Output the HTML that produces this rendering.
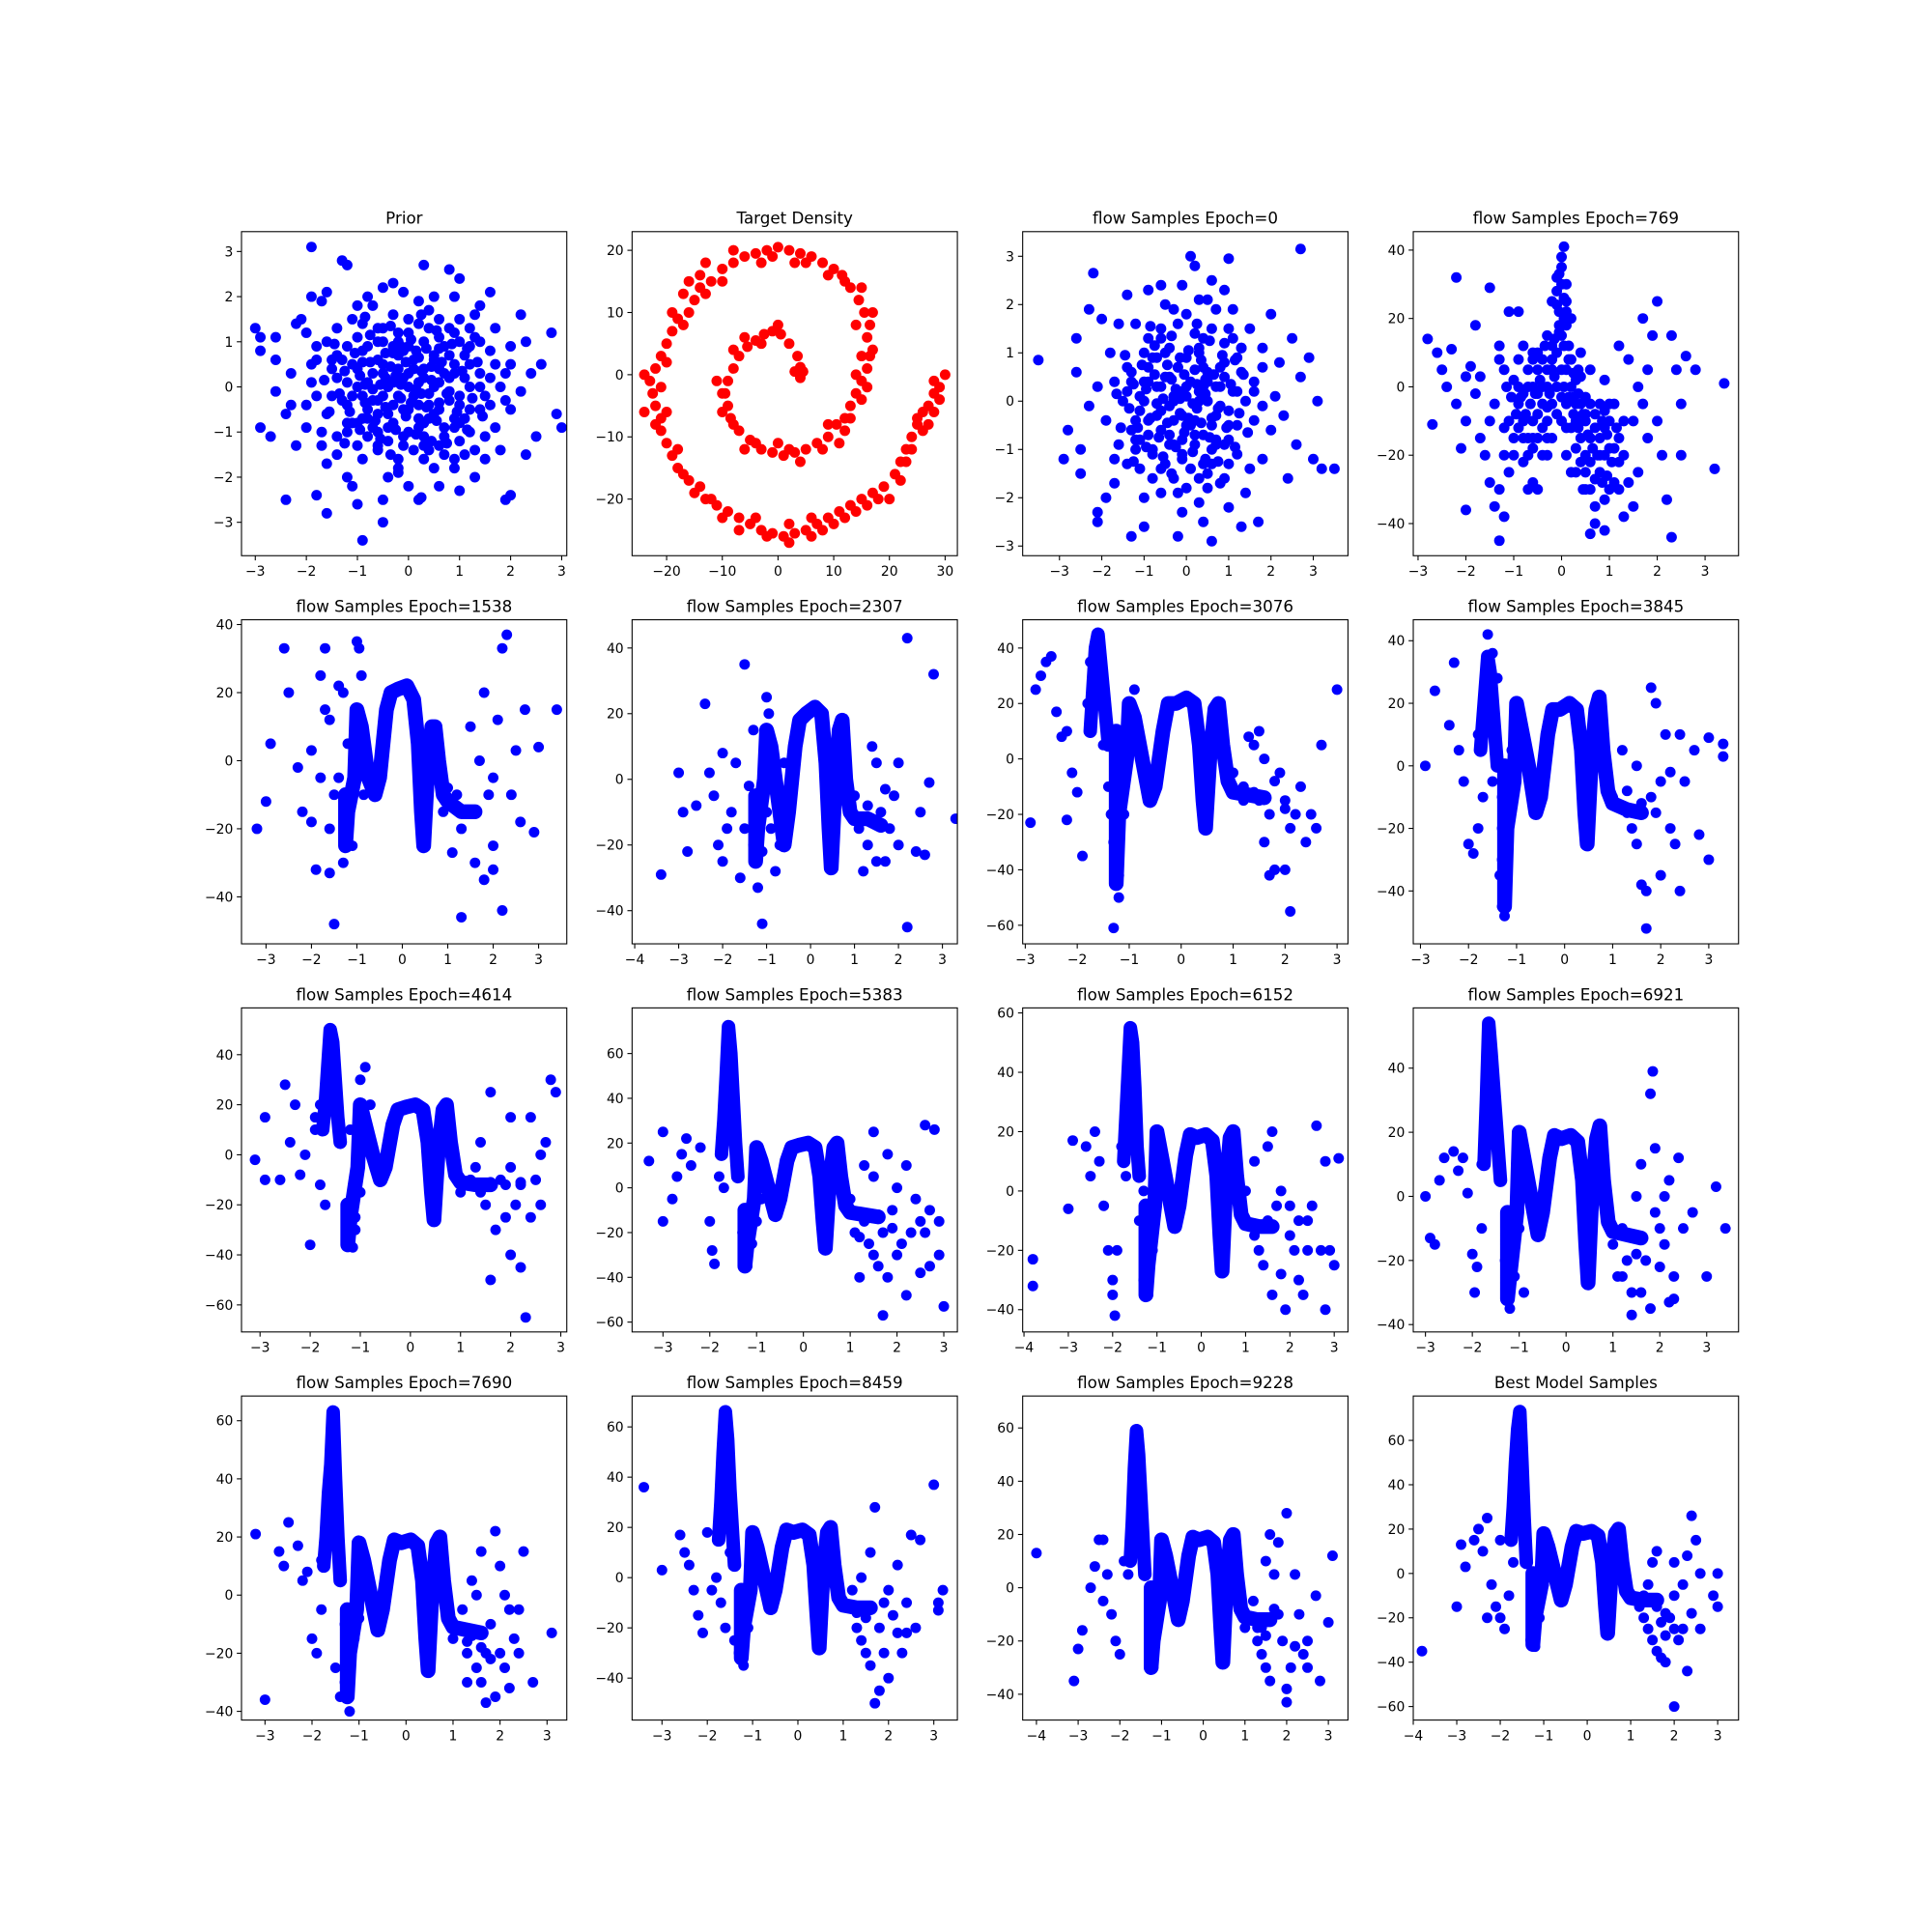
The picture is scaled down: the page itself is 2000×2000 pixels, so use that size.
<!DOCTYPE html>
<html><head><meta charset="utf-8"><title>Flow samples</title>
<style>html,body{margin:0;padding:0;background:#fff}svg{display:block}text{font-family:"DejaVu Sans","Liberation Sans",sans-serif;fill:#000}</style>
</head><body>
<svg id="fig" width="2000" height="2000" viewBox="0 0 1568 1568" xmlns="http://www.w3.org/2000/svg"></svg>
<script>
// ---- data ----
const PRIOR_PTS=[[-1.9,3.1],[-0.5,2.2],[0.8,2.6],[0.3,2.7],[-1.3,2.8],[-1.2,2.7],[1.0,2.4],[-3.0,1.3],[-2.9,1.1],[-2.9,0.8],[-2.6,1.1],[-2.4,-2.5],[-1.6,-2.8],[-0.9,-3.4],[-0.5,-3.0],[0.2,-2.5],[0.25,-2.45],[1.9,-2.5],[2.0,-2.4],[2.9,-0.6],[3.0,-0.9],[2.8,1.2],[2.6,0.5],[-2.9,-0.9],[-2.7,-1.1],[1.6,2.1],[-1.6,2.1],[-2.2,1.4],[2.2,1.6],[2.5,-1.1],[-2.6,-0.1],[-1.8,-2.4],[1.3,-2.0],[-1.2,-2.0],[0.6,-2.2],[2.2,-0.1],[-2.3,0.3],[1.8,-1.4],[-0.3,2.3],[0.2,1.9],[-1.1,1.5],[-1.9,2.0],[-1.7,1.9],[-2.1,1.5],[-2.0,1.2],[-2.3,-0.4],[-2.4,-0.6],[-2.0,-0.9],[-2.2,-1.3],[-1.6,-1.7],[-1.1,-2.2],[-0.4,-2.0],[0.5,-1.8],[0.9,-1.8],[1.1,-1.5],[1.5,-1.6],[2.0,-0.5],[2.4,0.3],[2.3,1.0],[1.7,1.3],[1.3,1.6],[0.9,2.0],[-0.1,2.1],[-0.7,1.8],[-1.4,1.3],[-1.8,0.6],[-1.9,0.1],[-1.6,-0.6],[-1.4,-1.1],[-0.9,-1.6],[-0.2,-1.6],[0.4,-1.4],[1.2,-1.0],[1.6,-0.4],[1.7,0.5],[1.4,1.0],[0.6,1.5],[-0.3,1.6],[-1.0,1.1],[-1.5,0.4],[-1.3,-0.3],[-1.0,-0.8],[-0.4,-1.2],[0.3,-1.1],[0.9,-0.7],[1.2,0.0],[1.1,0.7],[0.6,1.1],[0.0,1.2],[-0.6,1.0],[-1.1,0.5],[-1.1,-0.2],[-0.8,-0.5],[-0.3,-0.8],[0.3,-0.8],[0.8,-0.3],[0.9,0.3],[0.5,0.7],[-0.1,0.8],[-0.6,0.6],[-0.8,0.1],[-0.6,-0.3],[-0.1,-0.5],[0.4,-0.4],[0.6,0.1],[0.3,0.4],[-0.2,0.4],[-0.4,0.0],[0.0,0.0],[0.1,-0.2],[-0.2,-0.2],[0.2,0.1],[-1.2,0.9],[-0.5,1.3],[0.2,1.4],[0.8,1.3],[1.0,1.0],[1.4,0.3],[1.4,-0.5],[1.0,-1.2],[0.3,-1.3],[-0.6,-1.3],[-1.2,-1.0],[-1.5,-0.2],[-1.4,0.7],[-0.9,1.4],[0.4,1.7],[1.2,1.3],[1.8,0.0],[1.5,-1.1],[0.7,-1.5],[-0.2,-1.9],[-1.0,-1.3],[-1.7,-1.0],[-1.8,0.9],[-0.9,0.8],[-0.3,0.9],[0.7,0.9],[1.0,-0.4],[-0.7,-0.9],[0.0,-1.0],[0.5,-0.6],[-0.4,-0.6],[-0.9,-0.2],[0.9,-0.9],[1.3,-1.4],[-0.2,1.0],[0.6,0.4],[-0.5,0.3],[0.1,0.6],[-0.1,-1.3],[0.7,-1.1],[1.6,0.8],[-1.6,1.0],[-0.8,2.0],[0.5,2.0],[-2.0,-0.4],[-1.7,-1.3],[1.9,0.3],[2.0,0.9],[1.4,1.8],[-0.5,-2.5],[0.0,-2.2],[1.0,-2.3],[2.3,-1.5],[-2.6,0.6],[-1.0,-2.6]];
const PRIOR_CORE=[[-1.35,-0.15],[-1.25,0.35],[-1.15,-0.55],[-1.05,0.75],[-0.95,-0.95],[-0.95,0.25],[-0.85,-0.35],[-0.75,0.55],[-0.75,1.15],[-0.65,-0.75],[-0.55,0.05],[-0.55,-1.15],[-0.45,0.75],[-0.45,-0.45],[-0.35,1.35],[-0.25,0.25],[-0.25,-0.95],[-0.15,-0.25],[-0.05,0.55],[-0.05,-0.65],[0.05,1.05],[0.15,-0.05],[0.15,-1.05],[0.25,0.35],[0.35,-0.45],[0.35,0.85],[0.45,0.15],[0.55,-0.75],[0.55,1.25],[0.65,0.55],[0.75,-0.15],[0.75,-1.25],[0.85,0.95],[0.95,-0.55],[1.05,0.35],[1.15,-0.95],[1.15,0.85],[1.25,-0.25],[1.35,0.55],[1.45,-0.65],[-1.45,0.95],[-1.55,-0.55],[-1.25,-1.25],[-0.85,1.55],[0.25,1.6],[1.0,1.5],[1.6,0.2],[-1.65,0.15],[-0.35,-1.5],[0.9,-1.6],[-0.15,0.9],[0.6,-0.35],[-0.7,-0.05],[0.2,0.65],[-0.35,0.45],[0.05,-0.35],[1.3,1.1],[-1.1,-0.8],[-0.6,-1.4],[0.45,-1.2],[1.7,-0.9],[-1.8,-0.2],[-1.9,0.5],[-1.0,1.8],[0.0,1.5],[1.9,-0.3],[2.0,0.5],[-0.2,-1.8],[0.3,-1.6],[-1.4,-1.5],[-1.2,0.1],[-0.9,0.55],[-0.5,-0.2],[0.0,0.3],[0.4,-0.15],[0.8,0.2],[1.1,-0.7],[0.6,0.85],[-0.2,1.2],[-0.6,-1.0],[0.2,-0.7],[1.5,-0.2],[-1.5,0.6],[1.2,0.5],[-0.8,-0.7]];
const PRIOR_CORE2=[[-1.2,-0.4],[-1.0,0.0],[-1.0,0.4],[-0.9,-0.7],[-0.8,0.9],[-0.7,0.3],[-0.7,-0.3],[-0.6,-0.6],[-0.5,0.5],[-0.5,1.0],[-0.4,-0.9],[-0.3,0.1],[-0.3,-0.4],[-0.2,0.7],[-0.1,-1.1],[-0.1,0.2],[0.0,-0.5],[0.0,0.9],[0.1,0.4],[0.2,-0.4],[0.2,-0.9],[0.3,0.2],[0.3,1.0],[0.4,-0.7],[0.5,0.0],[0.5,0.6],[0.6,-0.5],[0.7,0.3],[0.7,-0.9],[0.8,0.7],[0.8,-0.1],[0.9,0.5],[1.0,-0.2],[1.0,-0.8],[1.1,0.2],[1.2,-0.5],[1.2,0.9],[-1.3,0.6],[-1.2,-0.8],[-0.8,-1.1],[0.4,1.3],[0.9,1.2],[1.4,0.0],[-1.4,0.2],[0.1,-1.4],[-0.6,1.3],[0.6,-1.3],[-0.15,0.05],[0.25,-0.15],[0.45,0.45],[-0.45,0.2],[-0.3,0.75],[0.15,0.8],[-0.85,0.05]];
const TARGET_PTS=[[4.5,0.5],[4,1.2],[3.5,3],[2,5],[0.5,6.5],[-1,7],[-2.5,6.5],[-4,5.5],[-5.5,4.5],[-7,3],[-8,1],[-9,-1],[-9.5,-3],[-9,-5],[-8.5,-7],[-7,-9],[-5,-10.5],[-3,-12],[-1,-12.5],[1,-13],[3,-12.5],[5,-12],[7,-11],[9,-10],[10.5,-8],[12,-7],[13,-5],[14,-3],[15,-1],[16,1],[16.5,3],[16,6],[16.5,8],[15.5,10],[14.5,12],[13,14],[11.5,16],[10,17],[8,18],[6,19],[4,19.5],[2,20],[0,20.5],[-2,20],[-4,19.5],[-6,19],[-8,18],[-10,17],[-12,15],[-13,13],[-15,12],[-16,10],[-18,9],[-19,7],[-20,5],[-21,3],[-22,1],[-23,-1],[-22.5,-3],[-22,-5],[-21,-7],[-21,-9],[-20,-11],[-19,-13],[-18,-15],[-16,-17],[-15,-19],[-13,-20],[-11,-21],[-9,-22],[-7,-23],[-5,-24],[-3,-25],[-1,-25.5],[1,-26],[3,-25.5],[5,-25],[7,-24],[9,-23],[11,-22],[13,-21],[15,-20],[17,-19],[19,-18],[21,-16],[22,-14],[23,-12],[24,-10],[25,-8],[26,-6],[27,-5],[28,-3],[29,-2],[30,0],[-3,5],[0,8],[-6,6],[-10,-3],[-11,-1],[-6,-12],[0,-11],[4,-14],[8,-12],[12,-9],[15,-4],[14,0],[17,4],[14,8],[12,15],[9,16],[3,18],[-3,18],[-10,15],[-14,14],[-17,8],[-20,2],[-24,0],[-20,-6],[-18,-12],[-14,-18],[-10,-23],[-4,-23],[2,-24],[6,-23],[10,-24],[14,-22],[18,-20],[20,-20],[24,-12],[26,-9],[28,-6],[29,-4],[25,-7],[22,-17],[3,0.5],[4,-0.5],[-16,15],[-19,10],[-13,18],[-8,20],[15,14],[17,10],[-21,-2],[-24,-6],[-12,-20],[-2,-26],[6,-26],[12,-23],[27,-8],[-8,-8],[-4,-11],[11,-11],[15,3],[-14,16],[-17,13],[-22,-8],[-17,-16],[-7,-25],[2,-27],[8,-25],[16,-21],[23,-14],[28,-1],[13,-7],[16,-2],[-1,19],[5,18],[-8,4],[-10,-6],[2,-12],[9,-8]];
const E0_PTS=[[-3.5,0.85],[2.7,3.15],[3.5,-1.4],[3.2,-1.4],[-2.2,2.65],[1.0,2.95],[0.1,3.0],[0.2,2.8],[-2.1,-2.3],[-2.1,-2.5],[-1.0,-2.6],[-0.2,-2.8],[0.6,-2.9],[1.7,-2.5],[2.4,-1.6],[-2.5,-1.0],[-2.8,-0.6],[-2.9,-1.2],[3.1,0.0],[2.7,0.5],[2.5,1.3],[-1.4,2.2],[-0.6,2.4],[0.6,2.5],[-0.9,2.3],[1.5,1.5],[-2.0,1.7],[-2.6,0.6],[2.1,0.1],[1.4,-1.9],[-1.7,-1.7],[-1.4,-1.3],[-0.6,-1.9],[0.3,-2.1],[1.0,-2.2],[1.8,-1.2],[2.0,-0.6],[2.2,0.8],[1.8,1.1],[1.1,1.9],[0.3,2.1],[-0.5,2.0],[-1.2,1.6],[-1.8,1.0],[-2.1,0.3],[-1.9,-0.4],[-1.6,-0.9],[-1.1,-1.4],[-0.3,-1.6],[0.5,-1.5],[1.2,-1.1],[1.6,-0.4],[1.6,0.4],[1.3,1.1],[0.6,1.5],[-0.2,1.6],[-0.9,1.3],[-1.4,0.7],[-1.5,0.0],[-1.3,-0.6],[-0.8,-1.0],[-0.1,-1.2],[0.6,-1.0],[1.0,-0.5],[1.2,0.2],[0.9,0.8],[0.3,1.1],[-0.4,1.1],[-0.9,0.7],[-1.1,0.1],[-0.9,-0.4],[-0.4,-0.7],[0.2,-0.7],[0.7,-0.3],[0.8,0.3],[0.4,0.7],[-0.2,0.7],[-0.6,0.3],[-0.6,-0.2],[-0.1,-0.3],[0.3,0.0],[0.0,0.3],[-0.3,0.0],[0.1,-0.5],[0.5,0.4],[-0.4,0.5],[-1.0,1.0],[-1.2,-1.0],[1.0,-1.3],[1.1,1.3],[0.0,1.8],[0.0,-1.8],[-1.7,0.4],[1.8,-0.1],[-0.5,-1.3],[0.5,-1.8],[-2.3,-0.1],[2.3,-0.3],[-1.0,-2.0],[-0.1,-2.3],[0.9,2.3],[-0.1,2.4],[2.6,-0.9],[-2.6,1.3],[-2.3,1.9],[2.0,1.8],[-0.3,-0.9],[0.4,-1.3],[-0.8,-1.6],[0.8,-1.7],[-1.7,-1.2],[1.5,-1.4],[1.8,0.7],[-1.6,1.6],[0.7,1.9],[-0.6,1.5],[-1.1,-0.2],[0.2,1.4],[0.9,-0.9],[-0.7,0.9],[1.3,0.6],[-1.3,0.4],[-1.9,-2.0],[-2.5,-1.5],[3.0,-1.2],[2.9,0.9],[1.3,-2.6],[-1.3,-2.8],[0.4,-2.5]];
const E0_CORE=[[-1.35,-0.15],[-1.25,0.35],[-1.15,-0.55],[-1.05,0.75],[-0.95,-0.95],[-0.95,0.25],[-0.85,-0.35],[-0.75,0.55],[-0.75,1.15],[-0.65,-0.75],[-0.55,0.05],[-0.55,-1.15],[-0.45,0.75],[-0.45,-0.45],[-0.35,1.35],[-0.25,0.25],[-0.25,-0.95],[-0.15,-0.25],[-0.05,0.55],[-0.05,-0.65],[0.05,1.05],[0.15,-0.05],[0.15,-1.05],[0.25,0.35],[0.35,-0.45],[0.35,0.85],[0.45,0.15],[0.55,-0.75],[0.55,1.25],[0.65,0.55],[0.75,-0.15],[0.75,-1.25],[0.85,0.95],[0.95,-0.55],[1.05,0.35],[1.15,-0.95],[1.15,0.85],[1.25,-0.25],[1.35,0.55],[1.45,-0.65],[-1.45,0.95],[-1.55,-0.55],[-1.25,-1.25],[-0.85,1.55],[0.25,1.6],[1.0,1.5],[1.6,0.2],[-1.65,0.15],[-0.35,-1.5],[0.9,-1.6],[-0.15,0.9],[0.6,-0.35],[-0.7,-0.05],[0.2,0.65],[-0.35,0.45],[0.05,-0.35],[1.3,1.1],[-1.1,-0.8],[-0.6,-1.4],[0.45,-1.2],[-0.2,-1.9],[0.3,-1.6],[0.0,0.1],[-0.4,-0.1],[0.4,0.3],[-0.1,-0.8],[-0.9,0.4],[0.7,-0.8],[-0.3,1.9],[0.5,2.1]];
const E0_CORE2=[[-1.2,-0.4],[-1.0,0.0],[-1.0,0.4],[-0.9,-0.7],[-0.8,0.9],[-0.7,0.3],[-0.7,-0.3],[-0.6,-0.6],[-0.5,0.5],[-0.5,1.0],[-0.4,-0.9],[-0.3,0.1],[-0.3,-0.4],[-0.2,0.7],[-0.1,-1.1],[-0.1,0.2],[0.0,-0.5],[0.0,0.9],[0.1,0.4],[0.2,-0.4],[0.2,-0.9],[0.3,0.2],[0.3,1.0],[0.4,-0.7],[0.5,0.0],[0.5,0.6],[0.6,-0.5],[0.7,0.3],[0.7,-0.9],[0.8,0.7],[0.8,-0.1],[0.9,0.5],[1.0,-0.2],[1.0,-0.8],[1.1,0.2],[1.2,-0.5],[1.2,0.9],[-1.3,0.6],[-1.2,-0.8],[-0.8,-1.1],[0.4,1.3],[0.9,1.2],[1.4,0.0],[-1.4,0.2],[0.1,-1.4],[-0.6,1.3],[0.6,-1.3],[-0.15,0.05],[0.25,-0.15],[0.45,0.45]];
const E769_PTS=[[-2.8,14],[-2.7,-11],[-2.6,10],[-2.5,5],[-2.4,0],[-2.3,11],[-2.2,-5],[-2.2,32],[-2.1,-18],[-2.0,-36],[-2.0,-10],[-1.9,6],[-1.8,-2],[-1.7,-15],[-1.6,-20],[-1.5,-28],[-1.4,-35],[-1.3,-45],[-1.2,-38],[-1.5,29],[-1.3,-30],[-1.2,5],[-1.1,-25],[-1.0,-15],[-0.9,-5],[-0.8,-22],[-0.7,-30],[-0.6,-10],[-1.1,22],[-0.9,22],[-0.8,12],[-0.7,0],[-0.6,10],[-0.5,5],[-0.4,-5],[-0.3,15],[-0.2,-5],[-1.4,-5],[-1.3,8],[-1.2,-12],[-1.0,2],[-0.9,-12],[-0.8,-2],[-0.6,-18],[-0.5,-8],[-0.4,8],[-0.3,0],[-0.2,25],[-0.1,28],[0.0,30],[0.0,35],[0.0,38],[0.05,41],[-0.05,22],[0.1,18],[0.0,15],[-0.1,10],[0.1,5],[0.2,0],[0.3,-5],[0.3,-10],[0.4,-15],[0.5,-20],[0.5,-25],[0.6,-30],[0.7,-35],[0.6,-43],[0.8,-25],[0.9,-20],[1.0,-10],[1.1,-5],[1.2,-15],[1.3,-20],[1.4,-28],[1.5,-10],[1.6,0],[1.7,-5],[1.8,5],[1.9,15],[2.0,25],[2.1,-20],[2.2,-33],[2.3,-44],[2.4,5],[2.5,-5],[2.6,9],[3.2,-24],[3.4,1],[0.4,10],[0.6,5],[0.8,-5],[0.9,2],[1.0,-18],[1.2,-30],[0.7,-12],[0.5,-8],[0.3,2],[0.2,8],[0.2,-12],[0.4,-22],[0.8,-15],[1.1,-28],[1.3,-38],[0.9,-33],[1.6,-25],[1.8,-15],[2.0,-10],[1.4,8],[1.2,12],[1.7,20],[2.3,15],[-0.2,-15],[-0.4,-20],[-0.6,-28],[0.1,-20],[0.2,20],[-0.1,32],[0.1,25],[-0.3,-10],[-1.5,-10],[-1.7,3],[-2.0,3],[-1.8,18],[-1.3,12],[-0.5,-30],[0.1,-5],[-0.1,0],[0.0,-10],[0.9,-42],[1.5,-35],[2.8,5],[2.5,-20]];
const E769_CORE=[[-0.05,18],[0.05,20],[-0.15,14],[0.15,12],[-0.1,24],[0.1,30],[-0.05,33],[0.05,26],[-0.2,8],[0.25,4],[-0.3,5],[0.35,-2],[-0.45,2],[-0.55,-2],[-0.65,-5],[-0.75,-8],[-0.85,-3],[-0.95,-8],[-1.05,-3],[-1.15,0],[-0.7,5],[-0.5,10],[-0.35,12],[-0.25,-2],[-0.15,3],[0.0,5],[0.05,0],[0.15,-3],[0.25,-8],[0.35,-12],[0.45,-8],[0.55,-14],[0.65,-18],[0.75,-20],[0.85,-10],[0.95,-14],[1.05,-22],[1.15,-12],[0.6,-22],[0.7,-27],[0.45,-30],[0.3,-18],[-0.4,-12],[-0.6,-15],[-0.8,-15],[-1.0,-20],[-0.3,-6],[0.5,-3],[0.9,-7],[1.3,-10],[0.4,3],[-0.9,8],[-0.6,0],[0.2,-25],[0.95,-26]];
const E769_CORE2=[[-0.9,0],[-0.8,-10],[-0.7,-15],[-0.6,8],[-0.5,-2],[-0.5,-15],[-0.4,0],[-0.3,-15],[-0.2,5],[-0.1,-8],[0,-3],[0.1,-12],[0.15,8],[0.25,-3],[0.35,5],[0.4,-5],[0.5,-10],[0.6,-5],[0.7,-8],[0.8,-20],[0.9,-12],[1.0,-5],[1.1,-18],[1.2,-22],[0.3,-25],[0.5,-30],[0.7,-40],[-0.2,12],[0.05,12],[-0.05,16],[0.1,22],[-0.3,-20],[-0.7,-20],[-1.1,-10],[-1.2,-20],[0.6,-15],[0.85,-28],[1.0,-30]];
const E1538_PTS=[[-3.2,-20],[-3.0,-12],[-2.9,5],[-2.6,33],[-2.5,20],[-2.3,-2],[-2.2,-15],[-2.0,-18],[-1.9,-32],[-1.8,25],[-1.7,33],[-1.6,12],[-1.5,-48],[-1.5,-10],[-1.4,22],[-1.3,20],[-1.2,5],[-1.1,-25],[-1.3,-30],[-1.6,-33],[-1.0,35],[-0.95,33],[-0.9,25],[-1.8,-5],[-2.0,3],[-1.6,-20],[1.3,-46],[1.6,-30],[1.8,-35],[2.0,-25],[2.2,-44],[2.2,33],[2.3,37],[2.0,-5],[2.5,3],[2.7,15],[2.9,-21],[3.0,4],[3.4,15],[2.6,-18],[1.5,10],[1.8,20],[2.1,12],[1.4,-15],[1.2,-10],[1.0,-8],[1.9,-10],[1.7,0],[2.4,-10],[1.1,-27],[2.0,-32],[-1.4,-5],[-1.2,-15],[-0.95,10],[-1.05,-5],[-0.85,-10],[-1.7,15],[1.3,-20],[1.6,-15],[0.9,-15]];
const E2307_PTS=[[-3.4,-29],[-3.0,2],[-2.9,-10],[-2.8,-22],[-2.6,-8],[-2.4,23],[-2.3,2],[-2.2,-5],[-2.1,-20],[-2.0,-25],[-1.9,-15],[-1.8,-10],[-1.7,5],[-1.6,-30],[-1.5,35],[-1.4,-2],[-1.3,-20],[-1.2,-33],[-1.1,-44],[-1.0,-10],[-0.9,10],[-0.8,-28],[-0.7,-20],[-1.3,15],[-1.5,-15],[-2.0,8],[1.0,-5],[1.1,-15],[1.3,-20],[1.5,5],[1.6,-10],[1.7,-25],[1.8,-15],[2.0,-20],[2.2,-45],[2.2,43],[2.4,-22],[2.5,-10],[2.8,32],[2.6,-23],[3.3,-12],[1.5,-25],[1.9,-5],[1.2,-28],[2.0,5],[1.4,10],[2.7,-1],[-0.95,20],[-1.0,25],[-0.6,5],[-0.5,-10],[-1.2,-5],[-1.1,-22],[-0.9,-15],[1.3,-8],[1.7,-3]];
const E3076_PTS=[[-2.9,-23],[-2.8,25],[-2.7,30],[-2.6,35],[-2.5,37],[-2.4,17],[-2.3,8],[-2.2,10],[-2.1,-5],[-2.0,-12],[-1.9,-35],[-2.2,-22],[-1.8,20],[-1.7,30],[-1.6,45],[-1.5,25],[-1.3,-61],[-1.3,-30],[-1.25,-38],[-1.2,-42],[-1.4,-10],[-1.5,5],[-1.1,-20],[-1.0,10],[-0.9,25],[1.0,-5],[1.2,-10],[1.4,5],[1.5,-15],[1.6,0],[1.7,-20],[1.8,-40],[1.9,-5],[2.0,-15],[2.1,-25],[2.1,-55],[2.2,-20],[2.3,-10],[2.4,-30],[2.5,-20],[2.6,-25],[2.7,5],[3.0,25],[1.8,-8],[1.3,8],[1.5,10],[2.0,-18],[1.7,-42],[2.0,-40],[1.6,-30],[-1.75,35],[-1.65,40],[-1.6,20],[-1.35,-20],[-1.25,-25],[-1.2,-50],[1.4,-12],[1.2,-15]];
const E3845_PTS=[[-2.9,0],[-2.7,24],[-2.4,13],[-2.3,33],[-2.2,5],[-2.1,-5],[-2.0,-25],[-1.9,-28],[-1.8,-20],[-1.7,-10],[-1.6,42],[-1.5,36],[-1.4,28],[-1.3,-30],[-1.3,-45],[-1.25,-40],[-1.3,-20],[-1.2,-15],[-1.1,5],[-1.5,-5],[-1.8,10],[-1.7,20],[1.0,-10],[1.2,5],[1.3,-15],[1.4,-20],[1.5,-25],[1.6,-38],[1.7,-40],[1.7,-52],[1.8,25],[1.9,20],[2.0,-5],[2.1,10],[2.2,-20],[2.3,-25],[2.4,-40],[2.5,-5],[2.7,5],[2.8,-22],[3.0,-30],[3.3,3],[3.3,7],[3.0,9],[1.5,0],[1.9,-15],[2.0,-35],[2.4,10],[1.8,-10],[2.2,-2],[-1.35,-35],[-1.25,-48],[-1.3,-10],[-1.6,25],[-1.5,15],[1.3,-8],[1.6,-12]];
const E4614_PTS=[[-3.1,-2],[-2.9,15],[-2.9,-10],[-2.6,-10],[-2.5,28],[-2.4,5],[-2.3,20],[-2.2,-8],[-2.1,0],[-2.0,-36],[-1.9,10],[-1.8,-12],[-1.7,-20],[-1.8,20],[-1.9,15],[-1.2,-30],[-1.15,-37],[-1.1,-25],[-1.0,-15],[-1.0,30],[-0.9,35],[-1.0,20],[-1.2,10],[-0.8,20],[1.0,-15],[1.2,-10],[1.3,-5],[1.4,5],[1.5,-20],[1.6,-50],[1.7,-30],[1.8,-10],[1.9,-25],[2.0,-40],[2.1,-20],[2.2,-45],[2.3,-65],[2.4,-25],[2.5,-10],[2.6,0],[2.7,5],[2.8,30],[2.9,25],[2.4,15],[2.0,15],[1.6,25],[2.6,-20],[2.2,-12],[1.4,-15],[2.0,-5],[1.3,-12],[1.6,-11],[1.9,-12],[2.2,-11],[-1.25,-35],[-1.1,-30]];
const E5383_PTS=[[-3.3,12],[-3.0,25],[-3.0,-15],[-2.8,-5],[-2.7,5],[-2.6,15],[-2.5,22],[-2.4,10],[-2.2,18],[-2.0,-15],[-1.95,-28],[-1.9,-34],[-1.8,5],[-1.7,0],[-1.3,-20],[-1.2,-35],[-1.1,-25],[-1.0,-15],[-0.9,-5],[1.0,-5],[1.1,-20],[1.3,10],[1.4,-25],[1.5,-30],[1.6,-35],[1.7,-57],[1.7,-20],[1.8,-40],[1.9,-10],[2.0,-30],[2.1,-25],[2.2,-48],[2.3,-20],[2.5,-15],[2.6,28],[2.7,-35],[2.8,26],[2.9,-30],[3.0,-53],[2.9,-15],[2.2,10],[1.8,15],[1.5,25],[2.4,-5],[2.0,0],[1.2,-40],[2.5,-38],[1.5,5],[2.6,-20],[2.7,-10],[1.3,-15],[1.6,-12],[1.9,-18],[1.2,-22]];
const E6152_PTS=[[-3.8,-23],[-3.8,-32],[-3.0,-6],[-2.9,17],[-2.6,15],[-2.5,5],[-2.4,20],[-2.3,10],[-2.2,-5],[-2.1,-20],[-2.0,-35],[-1.95,-42],[-1.9,-20],[-2.0,-30],[-1.8,15],[-1.7,5],[-1.4,-10],[-1.3,-30],[-1.2,-35],[-1.1,-20],[-1.0,10],[-1.3,0],[1.0,0],[1.2,10],[1.3,-20],[1.4,-25],[1.5,-10],[1.6,20],[1.7,-5],[1.8,-28],[1.9,-40],[2.0,-15],[2.1,-20],[2.2,-30],[2.3,-35],[2.4,-10],[2.5,-5],[2.6,22],[2.7,-20],[2.8,10],[2.9,-20],[3.0,-25],[3.1,11],[1.5,15],[2.0,-5],[1.8,0],[2.4,-20],[1.6,-35],[2.2,-10],[2.8,-40],[1.2,-15],[1.4,-12],[-1.25,-25]];
const E6921_PTS=[[-3.0,0],[-2.9,-13],[-2.8,-15],[-2.7,5],[-2.6,12],[-2.4,14],[-2.3,8],[-2.2,12],[-2.1,1],[-2.0,-18],[-1.95,-30],[-1.9,-22],[-1.8,-10],[-1.8,10],[-1.7,20],[-1.3,-20],[-1.25,-30],[-1.2,-35],[-1.1,-25],[-1.0,-10],[-0.9,-30],[1.0,-15],[1.1,-25],[1.2,-10],[1.3,-20],[1.4,-30],[1.5,0],[1.6,10],[1.7,-20],[1.8,-35],[1.8,32],[1.85,39],[1.9,-5],[2.0,-10],[2.1,-15],[2.2,5],[2.3,-25],[2.4,12],[2.5,-10],[2.7,-5],[3.0,-25],[3.2,3],[3.4,-10],[2.2,-33],[1.6,-30],[2.0,-22],[1.9,15],[2.3,-32],[1.4,-37],[2.1,0],[1.3,-12],[1.5,-18],[1.2,-25]];
const E7690_PTS=[[-3.2,21],[-3.0,-36],[-2.7,15],[-2.6,10],[-2.5,25],[-2.3,17],[-2.2,5],[-2.1,8],[-2.0,-15],[-1.9,-20],[-1.8,-5],[-1.8,12],[-1.6,17],[-1.5,-25],[-1.3,-30],[-1.2,-40],[-1.3,-10],[-1.1,-15],[-1.0,-8],[1.0,-15],[1.2,-5],[1.3,-20],[1.4,5],[1.5,-25],[1.6,-30],[1.7,-37],[1.8,-10],[1.9,22],[2.0,-20],[2.1,-25],[2.2,-32],[2.3,-15],[2.4,-5],[2.5,15],[2.7,-30],[3.1,-13],[2.0,10],[1.6,15],[1.9,-35],[2.2,-5],[1.7,-20],[2.4,-20],[1.5,0],[1.3,-30],[2.1,0],[-1.4,-35],[1.2,-12],[1.4,-14],[1.6,-18],[1.8,-22],[1.3,-16],[-1.25,-28]];
const E8459_PTS=[[-3.4,36],[-3.0,3],[-2.6,17],[-2.5,10],[-2.4,5],[-2.3,-5],[-2.2,-15],[-2.1,-22],[-2.0,18],[-1.9,-5],[-1.8,0],[-1.7,-10],[-1.6,-20],[-1.5,10],[-1.4,-25],[-1.3,-30],[-1.2,-35],[-1.1,-20],[-1.0,5],[1.0,-10],[1.2,-5],[1.3,-20],[1.4,-25],[1.5,-30],[1.6,-35],[1.7,-50],[1.7,28],[1.8,-20],[1.9,-10],[2.0,-5],[2.1,-15],[2.2,-22],[2.3,-30],[2.4,-22],[2.5,17],[2.7,15],[3.0,37],[3.1,-10],[3.2,-5],[3.1,-13],[2.0,-40],[1.6,10],[2.2,5],[1.9,-30],[2.6,-20],[1.8,-45],[1.4,0],[2.4,-10],[1.3,-14],[1.5,-16]];
const E9228_PTS=[[-4.0,13],[-3.1,-35],[-3.0,-23],[-2.9,-16],[-2.6,8],[-2.5,18],[-2.4,18],[-2.3,5],[-2.2,-10],[-2.1,-20],[-2.0,-25],[-1.9,10],[-1.8,5],[-1.7,15],[-1.3,-20],[-1.25,-28],[-1.2,-30],[-1.1,-15],[-1.0,0],[1.0,-15],[1.2,-5],[1.3,-20],[1.4,-25],[1.5,-30],[1.6,-35],[1.7,5],[1.8,-10],[1.9,-20],[2.0,28],[2.0,-43],[2.1,-30],[2.2,-22],[2.3,-10],[2.4,-25],[2.5,-30],[2.7,-3],[2.8,-35],[3.0,-13],[3.1,12],[1.5,10],[1.7,-8],[2.5,-20],[2.0,-38],[1.8,17],[2.2,5],[1.6,20],[1.4,-15],[-2.4,-5],[-2.7,0],[1.2,-12],[1.3,-15],[1.5,-18]];
const BEST_PTS=[[-3.8,-35],[-3.0,-15],[-2.9,13],[-2.8,3],[-2.6,15],[-2.5,20],[-2.4,10],[-2.3,25],[-2.2,-5],[-2.1,-15],[-2.0,-20],[-1.9,-25],[-1.8,-10],[-1.7,5],[-1.3,-30],[-1.2,-33],[-1.1,-20],[-1.0,-5],[1.0,-10],[1.2,-15],[1.3,-20],[1.4,-25],[1.5,-30],[1.6,-35],[1.7,-38],[1.8,-40],[1.9,-20],[2.0,-60],[2.0,-10],[2.1,-30],[2.2,-25],[2.3,-44],[2.4,26],[2.5,15],[2.6,0],[2.6,-25],[2.9,-10],[3.0,-15],[3.0,0],[2.0,5],[1.6,10],[2.2,-5],[1.8,-28],[2.4,-18],[1.5,5],[1.4,-5],[1.7,-22],[2.3,8],[-2.0,15],[-2.3,-20],[1.6,-15],[1.8,-18],[2.0,-25],[1.3,-10]];

// dense main curve (shared x positions, per-epoch y values)
const CURVE_X=[-1.25,-1.25,-1.2,-1.05,-1.0,-0.9,-0.75,-0.6,-0.5,-0.35,-0.25,-0.1,0.1,0.25,0.35,0.42,0.47,0.55,0.65,0.72,0.8,0.9,1.0,1.3,1.6];
const E1538_CURVE=[-10,-25,-15,-5,15,10,-5,-10,-5,15,20,21,22,18,5,-15,-25,-5,10,10,0,-10,-12,-15,-15];
const E2307_CURVE=[-5,-25,-15,0,15,10,-5,-20,-10,10,18,20,22,20,5,-15,-27,-5,15,18,0,-10,-12,-12,-14];
const E3076_CURVE=[10,-45,-20,0,20,15,0,-15,-10,10,20,20,22,20,5,-15,-25,0,18,20,5,-8,-12,-13,-14];
const E3845_CURVE=[0,-45,-20,-5,20,12,0,-15,-10,10,18,18,20,18,5,-15,-25,0,18,22,5,-8,-12,-14,-15];
const E4614_CURVE=[-20,-36,-25,-5,20,12,0,-10,-5,12,18,19,20,18,5,-15,-26,0,18,20,5,-8,-11,-12,-12];
const E5383_CURVE=[-10,-35,-25,-5,18,12,0,-12,-5,12,18,19,20,18,5,-15,-27,0,18,20,5,-8,-11,-12,-13];
const E6152_CURVE=[-5,-35,-25,-5,20,12,0,-12,-5,12,19,18,19,17,5,-15,-27,0,18,20,5,-8,-11,-12,-12];
const E6921_CURVE=[-5,-32,-25,-5,20,12,0,-12,-5,12,19,18,19,17,5,-15,-27,0,18,22,5,-8,-11,-12,-13];
const E7690_CURVE=[-5,-35,-20,-5,18,12,0,-12,-5,12,19,18,19,17,5,-15,-26,0,18,20,5,-8,-11,-12,-13];
const E8459_CURVE=[-5,-32,-20,-5,18,12,0,-12,-5,12,19,18,19,17,5,-15,-28,0,18,20,5,-8,-11,-12,-12];
const E9228_CURVE=[0,-30,-20,-5,18,12,0,-12,-5,12,19,18,19,17,5,-15,-28,0,18,20,5,-8,-11,-12,-12];
const BEST_CURVE=[0,-32,-20,-5,18,12,0,-12,-5,12,19,18,19,17,5,-15,-27,0,18,20,5,-8,-11,-12,-12];

// spike near x=-1.5 (later epochs)
const SPIKE_X=[-1.75,-1.7,-1.65,-1.6,-1.55,-1.5,-1.45,-1.4];
const E3076_SPIKE=[10,25,40,45,35,25,15,5];
const E3845_SPIKE=[5,15,25,35,30,20,10,0];
const E4614_SPIKE=[10,20,35,50,45,30,15,5];
const E5383_SPIKE=[15,30,50,72,60,40,20,5];
const E6152_SPIKE=[10,25,40,55,50,35,15,5];
const E6921_SPIKE=[10,30,54,45,35,25,15,5];
const E7690_SPIKE=[10,20,35,45,63,40,20,5];
const E8459_SPIKE=[15,30,50,66,55,35,20,5];
const E9228_SPIKE=[10,25,45,59,50,35,20,5];
const BEST_SPIKE=[15,30,50,65,73,50,25,5];

const ROW_TOPS=[188,503,818,1133], COL_LEFTS=[196,513,830,1147], AW=264, AH=263;
const PANELS=[
 {t:"Prior",xl:[-3.27,3.1],yl:[-3.74,3.44],xt:[-3,-2,-1,0,1,2,3],yt:[-3,-2,-1,0,1,2,3],pts:PRIOR_PTS.concat(PRIOR_CORE,PRIOR_CORE2),c:"#0000ff"},
 {t:"Target Density",xl:[-26.2,32.2],yl:[-29.1,23],xt:[-20,-10,0,10,20,30],yt:[-20,-10,0,10,20],pts:TARGET_PTS,c:"#ff0000"},
 {t:"flow Samples Epoch=0",xl:[-3.87,3.82],yl:[-3.2,3.51],xt:[-3,-2,-1,0,1,2,3],yt:[-3,-2,-1,0,1,2,3],pts:E0_PTS.concat(E0_CORE,E0_CORE2),c:"#0000ff"},
 {t:"flow Samples Epoch=769",xl:[-3.1,3.7],yl:[-49.4,45.4],xt:[-3,-2,-1,0,1,2,3],yt:[-40,-20,0,20,40],pts:E769_PTS.concat(E769_CORE,E769_CORE2),c:"#0000ff"},
 {t:"flow Samples Epoch=1538",xl:[-3.54,3.62],yl:[-53.8,41.4],xt:[-3,-2,-1,0,1,2,3],yt:[-40,-20,0,20,40],pts:E1538_PTS,cy:E1538_CURVE,c:"#0000ff"},
 {t:"flow Samples Epoch=2307",xl:[-4.06,3.34],yl:[-50.1,48.6],xt:[-4,-3,-2,-1,0,1,2,3],yt:[-40,-20,0,20,40],pts:E2307_PTS,cy:E2307_CURVE,c:"#0000ff"},
 {t:"flow Samples Epoch=3076",xl:[-3.05,3.21],yl:[-66.7,50.2],xt:[-3,-2,-1,0,1,2,3],yt:[-60,-40,-20,0,20,40],pts:E3076_PTS,cy:E3076_CURVE,sp:E3076_SPIKE,c:"#0000ff"},
 {t:"flow Samples Epoch=3845",xl:[-3.15,3.62],yl:[-56.9,46.7],xt:[-3,-2,-1,0,1,2,3],yt:[-40,-20,0,20,40],pts:E3845_PTS,cy:E3845_CURVE,sp:E3845_SPIKE,c:"#0000ff"},
 {t:"flow Samples Epoch=4614",xl:[-3.37,3.12],yl:[-70.8,58.7],xt:[-3,-2,-1,0,1,2,3],yt:[-60,-40,-20,0,20,40],pts:E4614_PTS,cy:E4614_CURVE,sp:E4614_SPIKE,c:"#0000ff"},
 {t:"flow Samples Epoch=5383",xl:[-3.66,3.29],yl:[-64.4,80.4],xt:[-3,-2,-1,0,1,2,3],yt:[-60,-40,-20,0,20,40,60],pts:E5383_PTS,cy:E5383_CURVE,sp:E5383_SPIKE,c:"#0000ff"},
 {t:"flow Samples Epoch=6152",xl:[-4.03,3.31],yl:[-47.5,61.7],xt:[-4,-3,-2,-1,0,1,2,3],yt:[-40,-20,0,20,40,60],pts:E6152_PTS,cy:E6152_CURVE,sp:E6152_SPIKE,c:"#0000ff"},
 {t:"flow Samples Epoch=6921",xl:[-3.26,3.68],yl:[-42.3,58.8],xt:[-3,-2,-1,0,1,2,3],yt:[-40,-20,0,20,40],pts:E6921_PTS,cy:E6921_CURVE,sp:E6921_SPIKE,c:"#0000ff"},
 {t:"flow Samples Epoch=7690",xl:[-3.5,3.42],yl:[-43,68.5],xt:[-3,-2,-1,0,1,2,3],yt:[-40,-20,0,20,40,60],pts:E7690_PTS,cy:E7690_CURVE,sp:E7690_SPIKE,c:"#0000ff"},
 {t:"flow Samples Epoch=8459",xl:[-3.66,3.52],yl:[-56.7,72.3],xt:[-3,-2,-1,0,1,2,3],yt:[-40,-20,0,20,40,60],pts:E8459_PTS,cy:E8459_CURVE,sp:E8459_SPIKE,c:"#0000ff"},
 {t:"flow Samples Epoch=9228",xl:[-4.33,3.47],yl:[-49.7,72],xt:[-4,-3,-2,-1,0,1,2,3],yt:[-40,-20,0,20,40,60],pts:E9228_PTS,cy:E9228_CURVE,sp:E9228_SPIKE,c:"#0000ff"},
 {t:"Best Model Samples",xl:[-4.0,3.48],yl:[-66.1,80],xt:[-4,-3,-2,-1,0,1,2,3],yt:[-60,-40,-20,0,20,40,60],pts:BEST_PTS,cy:BEST_CURVE,sp:BEST_SPIKE,c:"#0000ff"}
];

const NS="http://www.w3.org/2000/svg";
const svg=document.getElementById('fig');
function mk(tag,attrs,parent){const e=document.createElementNS(NS,tag);for(const k in attrs)e.setAttribute(k,attrs[k]);parent.appendChild(e);return e;}
function fmt(v){return (v<0?"\u2212":"")+Math.abs(v);}
const defs=mk('defs',{},svg);

PANELS.forEach((p,i)=>{
  const L=COL_LEFTS[i%4], T=ROW_TOPS[Math.floor(i/4)];
  const sx=v=>L+(v-p.xl[0])/(p.xl[1]-p.xl[0])*AW;
  const sy=v=>T+AH-(v-p.yl[0])/(p.yl[1]-p.yl[0])*AH;
  const g=mk('g',{},svg);
  
  
  const cp=mk('clipPath',{id:'cp'+i},defs);
  mk('rect',{x:L,y:T,width:AW,height:AH},cp);
  const plot=mk('g',{'clip-path':'url(#cp'+i+')'},g);
  
  
  if(p.cy){
    const pl=mk('polyline',{points:CURVE_X.map((x,k)=>sx(x)+','+sy(p.cy[k])).join(' '),fill:'none',stroke:p.c,'stroke-width':12,'stroke-linejoin':'round','stroke-linecap':'round'},plot);
    
    
  }
  if(p.sp){
    const pl=mk('polyline',{points:SPIKE_X.map((x,k)=>sx(x)+','+sy(p.sp[k])).join(' '),fill:'none',stroke:p.c,'stroke-width':11,'stroke-linejoin':'round','stroke-linecap':'round'},plot);
    
    
  }
  p.pts.forEach(d=>{
    const c=mk('circle',{cx:sx(d[0]),cy:sy(d[1]),r:4.3,fill:p.c},plot);
    
    
  });
  const fr=mk('rect',{x:L,y:T,width:AW,height:AH,fill:'none',stroke:'#000','stroke-width':0.85},g);
  
  
  p.xt.forEach(v=>{
    const x=sx(v);
    mk('line',{x1:x,x2:x,y1:T+AH,y2:T+AH+3.8,stroke:'#000','stroke-width':0.85},g);
    const t=mk('text',{x:x,y:T+AH+16.3,'font-size':10.9,'text-anchor':'middle'},g);
    t.textContent=fmt(v);
    
    
  });
  p.yt.forEach(v=>{
    const y=sy(v);
    mk('line',{x1:L-3.8,x2:L,y1:y,y2:y,stroke:'#000','stroke-width':0.85},g);
    const t=mk('text',{x:L-6.8,y:y+3.9,'font-size':10.9,'text-anchor':'end'},g);
    t.textContent=fmt(v);
    
    
  });
  const tt=mk('text',{x:L+AW/2,y:T-6.3,'font-size':13.1,'text-anchor':'middle'},g);
  tt.textContent=p.t;
  
  
});
</script>
</body></html>
